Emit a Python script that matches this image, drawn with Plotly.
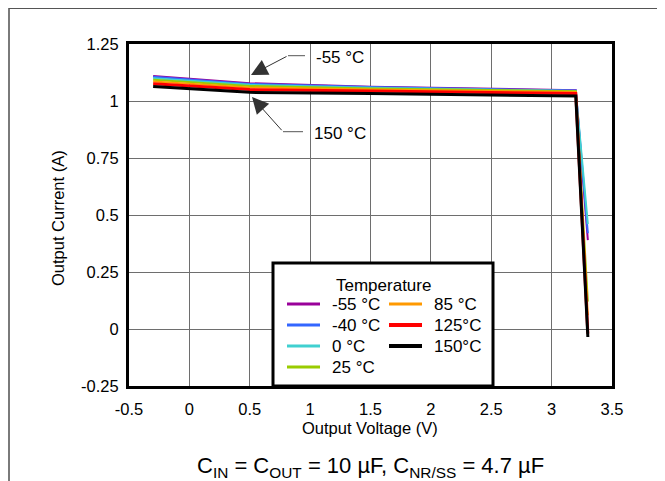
import plotly.graph_objects as go

# ---------------- data ----------------
voltage = [-0.3, 0.5, 1.5, 2.5, 3.2, 3.3]
temps = ["-55 °C", "-40 °C", "0 °C", "25 °C", "85 °C", "125°C", "150°C"]
i_m55 = [1.110, 1.078, 1.063, 1.053, 1.047, 0.39]
i_m40 = [1.106, 1.075, 1.061, 1.051, 1.046, 0.42]
i_0 = [1.100, 1.071, 1.058, 1.049, 1.044, 0.46]
i_25 = [1.093, 1.066, 1.055, 1.046, 1.043, 0.12]
i_85 = [1.085, 1.059, 1.050, 1.042, 1.039, 0.06]
i_125 = [1.076, 1.050, 1.044, 1.036, 1.033, -0.02]
i_150 = [1.064, 1.038, 1.033, 1.026, 1.022, -0.035]
currents = [i_m55, i_m40, i_0, i_25, i_85, i_125, i_150]

x_ticks = [-0.5, 0, 0.5, 1, 1.5, 2, 2.5, 3, 3.5]
x_ticktext = ["-0.5", "0", "0.5", "1", "1.5", "2", "2.5", "3", "3.5"]
y_ticks = [-0.25, 0, 0.25, 0.5, 0.75, 1, 1.25]
y_ticktext = ["-0.25", "0", "0.25", "0.5", "0.75", "1", "1.25"]

# ---------------- style ----------------
colors = ["#990099", "#3366ff", "#40d0d0", "#99cc00", "#ff9900", "#ff0000", "#000000"]
widths = [2, 2, 2, 2, 2, 3, 3]
FONT = "Liberation Sans, Arial, sans-serif"

OFF = 8  # page body margin
W, H = 665 - OFF, 481 - OFF
# plot area in page pixels
L, R, T, B = 129, 612, 44, 386
XR = (-0.5, 3.5)
YR = (-0.25, 1.25)


def px2x(px):
    return XR[0] + (px - L) / (R - L) * (XR[1] - XR[0])


def py2y(py):
    return YR[1] - (py - T) / (B - T) * (YR[1] - YR[0])


def px2paper(px):
    return (px - L) / (R - L)


def py2paper(py):
    return (B - py) / (B - T)


fig = go.Figure()
for name, cur, c, w in zip(temps, currents, colors, widths):
    fig.add_trace(go.Scatter(x=voltage, y=cur, mode="lines", name=name,
                             line=dict(color=c, width=w), showlegend=False))

shapes = []
annotations = []

# page border lines
shapes.append(dict(type="line", xref="paper", yref="paper",
                   x0=px2paper(9), x1=px2paper(9), y0=py2paper(8), y1=py2paper(481),
                   line=dict(color="#7a7a7a", width=2)))
shapes.append(dict(type="line", xref="paper", yref="paper",
                   x0=px2paper(9), x1=px2paper(665), y0=py2paper(8.5), y1=py2paper(8.5),
                   line=dict(color="#555555", width=1)))

# legend box
shapes.append(dict(type="rect", xref="x", yref="y",
                   x0=px2x(273), x1=px2x(493), y0=py2y(263), y1=py2y(386),
                   fillcolor="white", line=dict(color="black", width=3), layer="above"))
annotations.append(dict(x=px2x(383), y=py2y(285), xref="x", yref="y", text="Temperature",
                        showarrow=False, font=dict(size=17, color="black", family=FONT),
                        xanchor="center", yanchor="middle"))
for i, (name, c, w) in enumerate(zip(temps, colors, widths)):
    col = 0 if i < 4 else 1
    row = i if i < 4 else i - 4
    yy = 304 + 21 * row
    x0 = 287 if col == 0 else 389
    shapes.append(dict(type="line", xref="x", yref="y", x0=px2x(x0), x1=px2x(x0 + 33),
                       y0=py2y(yy), y1=py2y(yy), line=dict(color=c, width=w + 1), layer="above"))
    annotations.append(dict(x=px2x(x0 + 43), y=py2y(yy), xref="x", yref="y", text=name,
                            showarrow=False, font=dict(size=17, color="black", family=FONT),
                            xanchor="left", yanchor="middle"))

# callouts
for label, tip, tail, hend, ty in [("-55 °C", (251, 75), (288, 55.7), 305, 57),
                                   ("150 °C", (252, 97), (283, 131.7), 303, 133)]:
    annotations.append(dict(x=px2x(tip[0]), y=py2y(tip[1]), xref="x", yref="y", text="",
                            showarrow=True, arrowhead=2, arrowsize=3.3, arrowwidth=1,
                            arrowcolor="#333333", ax=tail[0] - tip[0], ay=tail[1] - tip[1],
                            axref="pixel", ayref="pixel"))
    shapes.append(dict(type="line", xref="x", yref="y", x0=px2x(tail[0]), x1=px2x(hend),
                       y0=py2y(tail[1]), y1=py2y(tail[1]), line=dict(color="#555555", width=1)))
    annotations.append(dict(x=px2x(hend + 9), y=py2y(ty), xref="x", yref="y", text=label,
                            showarrow=False, font=dict(size=17, color="black", family=FONT),
                            xanchor="left", yanchor="middle"))

# axis titles and caption
annotations.append(dict(x=px2paper(370), y=py2paper(428), xref="paper", yref="paper",
                        text="Output Voltage (V)", showarrow=False,
                        xanchor="center", yanchor="middle",
                        font=dict(size=16.5, color="black", family=FONT)))
annotations.append(dict(x=px2paper(58), y=py2paper(218), xref="paper", yref="paper",
                        text="Output Current (A)", showarrow=False, textangle=-90,
                        xanchor="center", yanchor="middle",
                        font=dict(size=16.5, color="black", family=FONT)))
annotations.append(dict(x=px2paper(370), y=py2paper(467), xref="paper", yref="paper",
                        text="C<sub>IN</sub> = C<sub>OUT</sub> = 10 µF, C<sub>NR/SS</sub> = 4.7 µF",
                        showarrow=False, xanchor="center", yanchor="middle",
                        font=dict(size=22, color="black", family=FONT)))

fig.update_layout(
    width=W, height=H,
    margin=dict(l=L - OFF, r=665 - R, t=T - OFF, b=481 - B),
    paper_bgcolor="white", plot_bgcolor="white",
    font=dict(family=FONT, size=16, color="black"),
    shapes=shapes, annotations=annotations,
    showlegend=False,
)
fig.update_xaxes(range=list(XR), tickvals=x_ticks, ticktext=x_ticktext,
                 showgrid=True, gridcolor="#6e6e6e", gridwidth=1, zeroline=False,
                 showline=True, mirror=True, linecolor="black", linewidth=3,
                 ticks="", ticklabelstandoff=6, tickfont=dict(size=16.5))
fig.update_yaxes(range=list(YR), tickvals=y_ticks, ticktext=y_ticktext,
                 showgrid=True, gridcolor="#6e6e6e", gridwidth=1, zeroline=False,
                 showline=True, mirror=True, linecolor="black", linewidth=3,
                 ticks="", ticklabelstandoff=4, tickfont=dict(size=16.5))

fig.write_html("out.html")
